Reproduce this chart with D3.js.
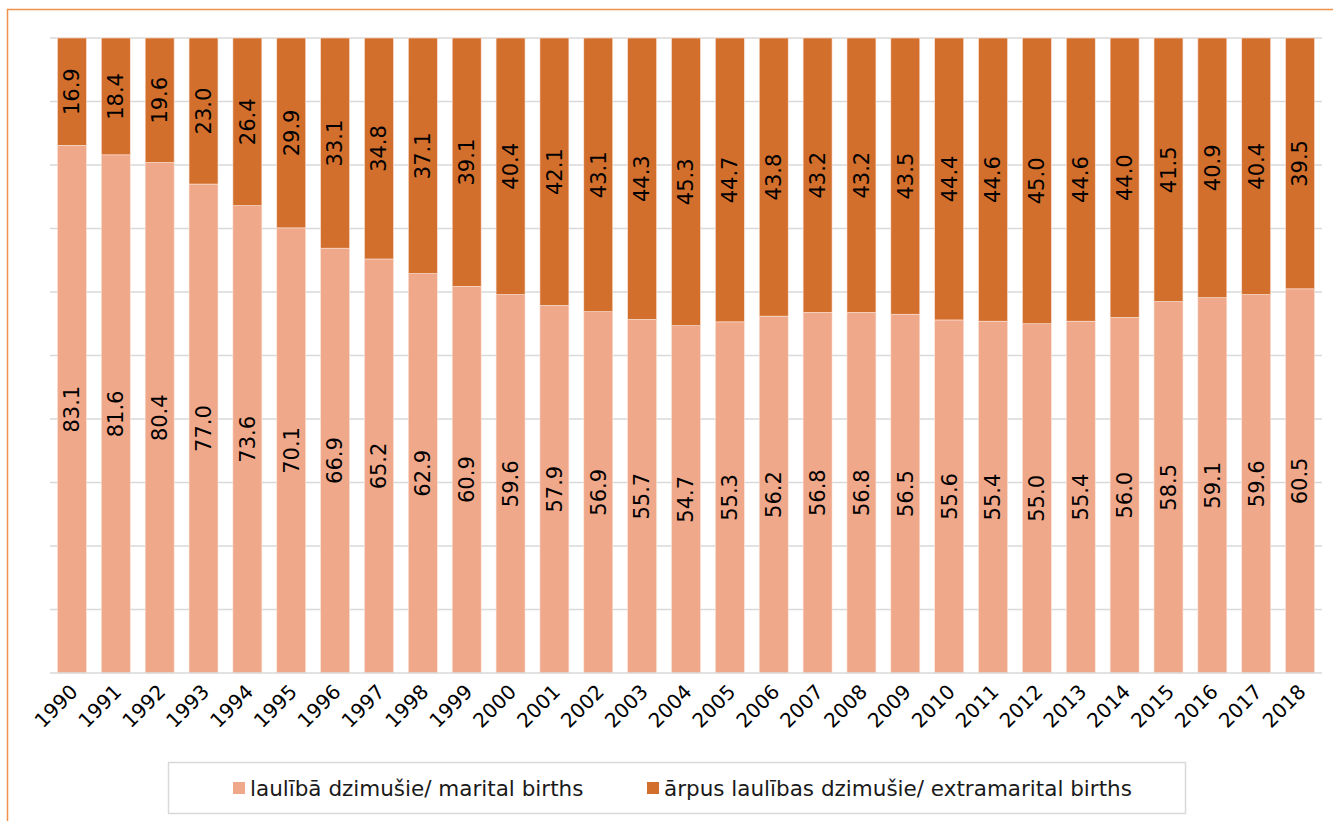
<!DOCTYPE html>
<html>
<head>
<meta charset="utf-8">
<title>Births in and out of marriage</title>
<script src="https://cdn.jsdelivr.net/npm/d3@7/dist/d3.min.js"></script>
<style>
	body, html { margin: 0; padding: 0; background: #fff; }
	svg { display: block; font-family: "DejaVu Sans", Verdana, sans-serif; }
	.lbl { fill: #000; font-size: 21px; }
	.yr { fill: #000; font-size: 20px; }
	.leg { fill: #1a1a1a; font-size: 21.5px; }
</style>
</head>
<body>
<svg id="chart"></svg>
<script>
	// years on the x axis
	var years = d3.range(1990, 2019).map(String);
	// laulībā dzimušie / marital births, %
	var marital = [83.1, 81.6, 80.4, 77.0, 73.6, 70.1, 66.9, 65.2, 62.9, 60.9, 59.6, 57.9, 56.9, 55.7,
		54.7, 55.3, 56.2, 56.8, 56.8, 56.5, 55.6, 55.4, 55.0, 55.4, 56.0, 58.5, 59.1, 59.6, 60.5];
	// ārpus laulības dzimušie / extramarital births, %
	var extramarital = [16.9, 18.4, 19.6, 23.0, 26.4, 29.9, 33.1, 34.8, 37.1, 39.1, 40.4, 42.1, 43.1, 44.3,
		45.3, 44.7, 43.8, 43.2, 43.2, 43.5, 44.4, 44.6, 45.0, 44.6, 44.0, 41.5, 40.9, 40.4, 39.5];
	var seriesNames = ["laulībā dzimušie/ marital births", "ārpus laulības dzimušie/ extramarital births"];
	var COLORS = ["#F0A88A", "#D36F2D"];

	var W = 1333, H = 821;
	var svg = d3.select("#chart").attr("width", W).attr("height", H);

	// outer frame (only top and left edge fall inside the picture)
	svg.append("rect")
		.attr("x", 7.5).attr("y", 9.5)
		.attr("width", W + 20).attr("height", H + 20)
		.attr("fill", "none").attr("stroke", "#F0914E").attr("stroke-width", 1.5);

	var plotL = 50, plotR = 1322, plotT = 38, plotB = 673;

	var x = d3.scaleBand().domain(years).range([plotL, plotR]).paddingInner(0.34).paddingOuter(0.17);
	var y = d3.scaleLinear().domain([0, 100]).range([plotB, plotT]);

	// gridlines
	svg.append("g").selectAll("line")
		.data(d3.range(10, 101, 10))
		.enter().append("line")
		.attr("x1", plotL).attr("x2", plotR)
		.attr("y1", function(d) { return y(d); }).attr("y2", function(d) { return y(d); })
		.attr("stroke", "#d9d9d9").attr("stroke-width", 1.5);

	var rows = years.map(function(yr, i) {
		return { year: yr, marital: marital[i], extramarital: extramarital[i] };
	});
	var stack = d3.stack().keys(["marital", "extramarital"])(rows);

	var layers = svg.selectAll("g.layer")
		.data(stack)
		.enter().append("g")
		.attr("class", "layer")
		.attr("fill", function(d, i) { return COLORS[i]; });

	layers.selectAll("rect")
		.data(function(d) { return d; })
		.enter().append("rect")
		.attr("x", function(d) { return x(d.data.year); })
		.attr("width", x.bandwidth())
		.attr("y", function(d) { return y(d[1]); })
		.attr("height", function(d) { return y(d[0]) - y(d[1]); })
		.attr("stroke", "#fbe3d8").attr("stroke-width", 0.6);

	// value labels, rotated
	layers.selectAll("text")
		.data(function(d) { return d; })
		.enter().append("text")
		.attr("class", "lbl")
		.attr("text-anchor", "middle")
		.attr("dy", ".35em")
		.attr("transform", function(d) {
			var cx = x(d.data.year) + x.bandwidth() / 2;
			var cy = (y(d[0]) + y(d[1])) / 2;
			return "translate(" + cx + "," + cy + ") rotate(-90)";
		})
		.text(function(d) { return (d[1] - d[0]).toFixed(1); });

	// bottom axis line
	svg.append("line")
		.attr("x1", plotL).attr("x2", plotR)
		.attr("y1", plotB).attr("y2", plotB)
		.attr("stroke", "#d9d9d9").attr("stroke-width", 1.5);

	// year labels
	svg.append("g").selectAll("text")
		.data(years)
		.enter().append("text")
		.attr("class", "yr")
		.attr("text-anchor", "end")
		.attr("transform", function(d) {
			return "translate(" + (x(d) + x.bandwidth() / 2 + 7) + "," + (plotB + 20) + ") rotate(-45)";
		})
		.text(function(d) { return d; });

	// legend
	var leg = svg.append("g");
	leg.append("rect")
		.attr("x", 168.5).attr("y", 762.5).attr("width", 1017).attr("height", 51)
		.attr("fill", "#fff").attr("stroke", "#d9d9d9").attr("stroke-width", 1.5);

	var legX = [233, 647];
	var items = leg.selectAll("g.item")
		.data(seriesNames)
		.enter().append("g")
		.attr("class", "item")
		.attr("transform", function(d, i) { return "translate(" + legX[i] + ",782)"; });
	items.append("rect")
		.attr("width", 12).attr("height", 12)
		.attr("fill", function(d, i) { return COLORS[i]; });
	items.append("text")
		.attr("class", "leg")
		.attr("x", 17).attr("y", 6).attr("dy", ".35em")
		.text(function(d) { return d; });
</script>
</body>
</html>
